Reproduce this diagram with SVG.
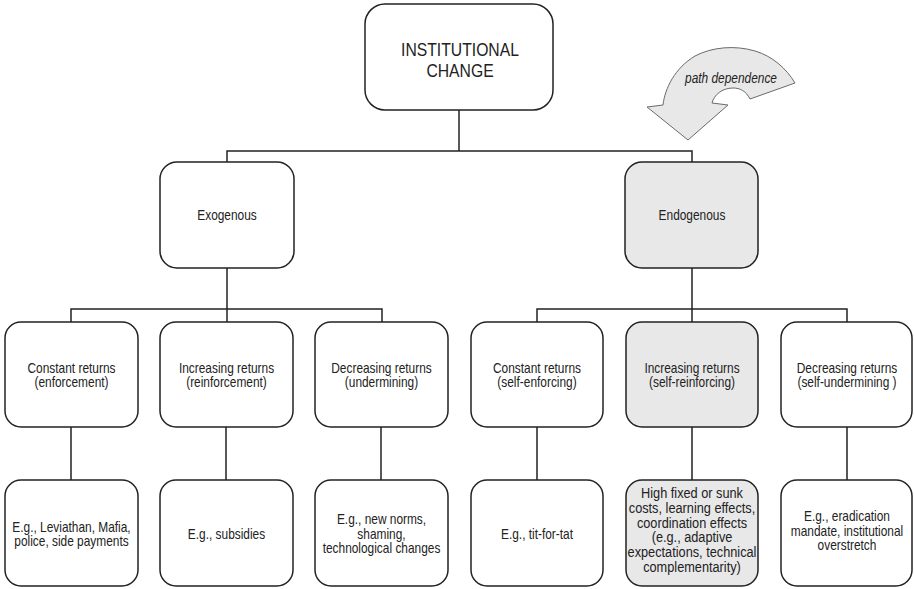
<svg xmlns="http://www.w3.org/2000/svg" width="914" height="589" viewBox="0 0 914 589">
<style>
.box{fill:#ffffff;stroke:#222222;stroke-width:1.5}
.gray{fill:#e8e8e8}
.t{font-family:"Liberation Sans",Arial,Helvetica,sans-serif;font-size:14px;fill:#222222;text-anchor:middle}
.big{font-size:18.5px}
.mid{font-size:15px}
.conn{fill:none;stroke:#222222;stroke-width:1.5}
</style>
<rect width="914" height="589" fill="#ffffff"/>
<g id="connectors">
<path class="conn" d="M459,110 V151 M227,162 V151 H692 V162"/>
<path class="conn" d="M227,268 V309 M71,322 V309 H382 V322 M227,309 V322"/>
<path class="conn" d="M692,268 V309 M537,322 V309 H847 V322 M692,309 V322"/>
<path class="conn" d="M71,427 V480 M226,427 V480 M381,427 V480 M537,427 V480 M692,427 V480 M847,427 V480"/>
</g>
<g id="arrow">
<path d="M688,140 L647,107 L663,105 C665,88 675,68 695,56 C712,47 735,45 755,51 C772,56 786,68 795,83 L750,99 C746,91 740,88 733,88 C722,88 714,95 712,103 L728,105 Z" fill="#e8e8e8" stroke="#6a6a6a" stroke-width="1"/>
<text class="t" transform="matrix(0.85 0 0 1 731 83)" style="font-style:italic">path dependence</text>
</g>
<g id="root">
<rect class="box" x="365" y="4" width="188" height="106" rx="20"/>
<text class="t big" transform="matrix(0.85 0 0 1 460 55.5)">INSTITUTIONAL</text>
<text class="t big" transform="matrix(0.85 0 0 1 460 76.5)">CHANGE</text>
</g>
<g id="exogenous">
<rect class="box" x="160" y="162" width="134" height="106" rx="17"/>
<text class="t" transform="matrix(0.85 0 0 1 227 220)">Exogenous</text>
</g>
<g id="endogenous">
<rect class="box gray" x="625" y="162" width="133" height="106" rx="17"/>
<text class="t" transform="matrix(0.85 0 0 1 692 220)">Endogenous</text>
</g>
<g id="exo-constant">
<rect class="box" x="5" y="322" width="133" height="105" rx="16"/>
<text class="t" transform="matrix(0.85 0 0 1 71.5 372.5)">Constant returns</text>
<text class="t" transform="matrix(0.85 0 0 1 71.5 386.5)">(enforcement)</text>
</g>
<g id="exo-increasing">
<rect class="box" x="160" y="322" width="133" height="105" rx="16"/>
<text class="t" transform="matrix(0.85 0 0 1 226.5 372.5)">Increasing returns</text>
<text class="t" transform="matrix(0.85 0 0 1 226.5 386.5)">(reinforcement)</text>
</g>
<g id="exo-decreasing">
<rect class="box" x="315" y="322" width="133" height="105" rx="16"/>
<text class="t" transform="matrix(0.85 0 0 1 381.5 372.5)">Decreasing returns</text>
<text class="t" transform="matrix(0.85 0 0 1 381.5 386.5)">(undermining)</text>
</g>
<g id="endo-constant">
<rect class="box" x="471" y="322" width="132" height="105" rx="16"/>
<text class="t" transform="matrix(0.85 0 0 1 537 372.5)">Constant returns</text>
<text class="t" transform="matrix(0.85 0 0 1 537 386.5)">(self-enforcing)</text>
</g>
<g id="endo-increasing">
<rect class="box gray" x="626" y="322" width="132" height="105" rx="16"/>
<text class="t" transform="matrix(0.85 0 0 1 692 372.5)">Increasing returns</text>
<text class="t" transform="matrix(0.85 0 0 1 692 386.5)">(self-reinforcing)</text>
</g>
<g id="endo-decreasing">
<rect class="box" x="781" y="322" width="131" height="105" rx="16"/>
<text class="t" transform="matrix(0.85 0 0 1 847 372.5)">Decreasing returns</text>
<text class="t" transform="matrix(0.85 0 0 1 847 386.5)">(self-undermining )</text>
</g>
<g id="ex1">
<rect class="box" x="5" y="480" width="133" height="106" rx="16"/>
<text class="t" transform="matrix(0.85 0 0 1 71.5 531.5)">E.g., Leviathan, Mafia,</text>
<text class="t" transform="matrix(0.85 0 0 1 71.5 546)">police, side payments</text>
</g>
<g id="ex2">
<rect class="box" x="160" y="480" width="133" height="106" rx="16"/>
<text class="t" transform="matrix(0.85 0 0 1 226.5 538.5)">E.g., subsidies</text>
</g>
<g id="ex3">
<rect class="box" x="315" y="480" width="133" height="106" rx="16"/>
<text class="t" transform="matrix(0.85 0 0 1 381.5 524)">E.g., new norms,</text>
<text class="t" transform="matrix(0.85 0 0 1 381.5 538.5)">shaming,</text>
<text class="t" transform="matrix(0.85 0 0 1 381.5 553)">technological changes</text>
</g>
<g id="ex4">
<rect class="box" x="471" y="480" width="132" height="106" rx="16"/>
<text class="t" transform="matrix(0.85 0 0 1 537 538.5)">E.g., tit-for-tat</text>
</g>
<g id="ex5">
<rect class="box gray" x="626" y="480" width="132" height="106" rx="16"/>
<text class="t mid" transform="matrix(0.85 0 0 1 692 498)">High fixed or sunk</text>
<text class="t mid" transform="matrix(0.85 0 0 1 692 513)">costs, learning effects,</text>
<text class="t mid" transform="matrix(0.85 0 0 1 692 527.5)">coordination effects</text>
<text class="t mid" transform="matrix(0.85 0 0 1 692 542)">(e.g., adaptive</text>
<text class="t mid" transform="matrix(0.85 0 0 1 692 557)">expectations, technical</text>
<text class="t mid" transform="matrix(0.85 0 0 1 692 571.5)">complementarity)</text>
</g>
<g id="ex6">
<rect class="box" x="781" y="480" width="131" height="106" rx="16"/>
<text class="t" transform="matrix(0.85 0 0 1 847 521)">E.g., eradication</text>
<text class="t" transform="matrix(0.85 0 0 1 847 535.5)">mandate, institutional</text>
<text class="t" transform="matrix(0.85 0 0 1 847 550)">overstretch</text>
</g>
</svg>
